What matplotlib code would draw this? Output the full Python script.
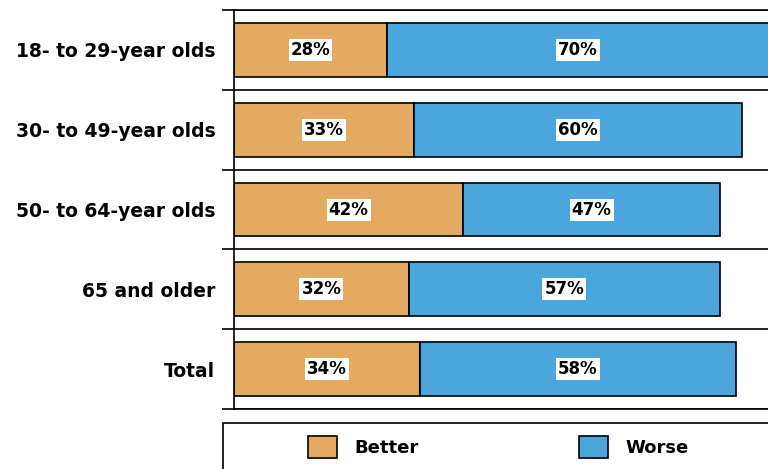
import matplotlib.pyplot as plt
import matplotlib.patches as mpatches
import numpy as np

plt.rcParams['font.family'] = ['DejaVu Sans']

groups = ["18- to 29-year olds", "30- to 49-year olds", "50- to 64-year olds",
          "65 and older", "Total"]
better = [28, 33, 42, 32, 34]
worse = [70, 60, 47, 57, 58]
series_names = ["Better", "Worse"]

c_better = '#E5AA62'
c_worse = '#4BA6DD'

W, H = 768, 469
fig = plt.figure(figsize=(W / 100, H / 100), dpi=100)
ax = fig.add_axes([234 / W, 1 - 409 / H, 1 - 234 / W, 399 / H])

y = np.arange(len(groups)) + 0.5
b1 = ax.barh(y, better, height=0.675, color=c_better, edgecolor='black', linewidth=1.2,
             label=series_names[0])
b2 = ax.barh(y, worse, left=better, height=0.675, color=c_worse, edgecolor='black',
             linewidth=1.2, label=series_names[1])

# value labels on white boxes, centred in each segment
for vals, starts in [(better, [0] * len(better)), (worse, better)]:
    for v, s, yy in zip(vals, starts, y):
        ax.text(s + v / 2, yy, f"{v}%", ha='center', va='center', fontsize=12,
                fontweight='bold', color='black',
                bbox=dict(facecolor='white', edgecolor='none', pad=1.5))

ax.set_xlim(0, 97.8)
ax.set_ylim(len(groups), 0)
ax.set_xticks([])
ax.set_yticks(y)
ax.set_yticklabels(groups, fontsize=13.5, fontweight='bold')
ax.tick_params(axis='y', which='major', length=0, pad=13.5)
ax.set_yticks(np.arange(len(groups) + 1), minor=True)
ax.tick_params(axis='y', which='minor', length=9, width=1.2, direction='out')
ax.grid(axis='y', which='minor', color='black', linewidth=1.2)
ax.set_axisbelow(True)
for side in ['top', 'bottom', 'left']:
    ax.spines[side].set_linewidth(1.2)
ax.spines['right'].set_visible(False)

# legend box running off the lower right corner
fig.patches.append(mpatches.Rectangle((223 / W, -0.05), 1, (469 - 423) / H + 0.05,
                                      transform=fig.transFigure, facecolor='white',
                                      edgecolor='black', linewidth=1.2))
fig.legend(handles=[b1, b2], labels=series_names, loc='center left',
           bbox_to_anchor=(292 / W, 1 - 447 / H), ncol=2, frameon=False,
           handlelength=1.6, handleheight=1.5, handletextpad=0.95, columnspacing=8.9,
           prop=dict(size=13, weight='bold'))

fig.savefig('out.png', dpi=100)
